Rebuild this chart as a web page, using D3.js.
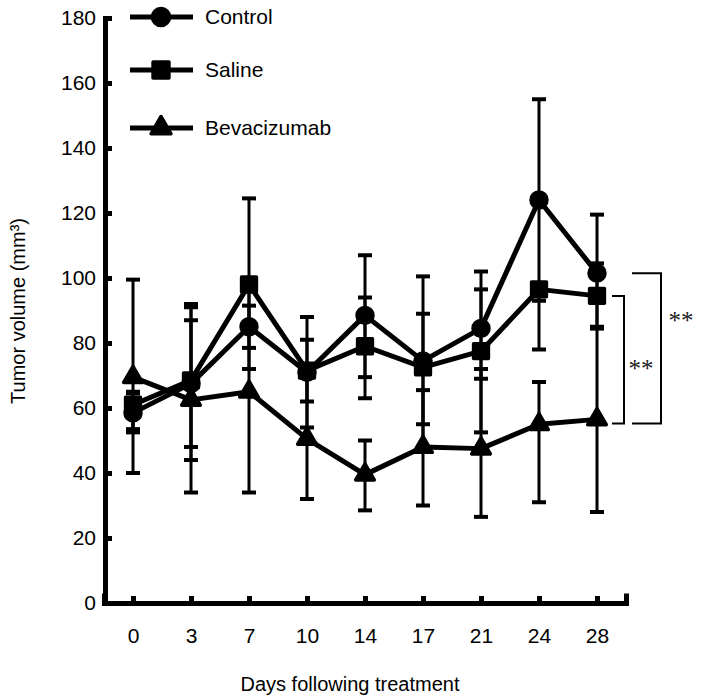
<!DOCTYPE html>
<html>
<head>
<meta charset="utf-8">
<script src="https://cdnjs.cloudflare.com/ajax/libs/d3/7.8.5/d3.min.js"></script>
<style>
body { margin: 0; background: #fff; }
</style>
</head>
<body>
<div id="chart-area"></div>
<script>
// chart values
const days = ["0", "3", "7", "10", "14", "17", "21", "24", "28"]
const yTicks = [0, 20, 40, 60, 80, 100, 120, 140, 160, 180]

const controlMean = [58.5, 67.5, 85, 71, 88.5, 74.5, 84.5, 124, 101.5]
const controlLow = [52.5, 48, 78.5, 54, 69.5, 48, 69, 93, 84.5]
const controlHigh = [65, 87, 91.5, 88, 107, 100.5, 102, 155, 119.5]

const salineMean = [61, 68.5, 98, 71.5, 79, 72.5, 77.5, 96.5, 94.5]
const salineLow = [53.5, 44, 72, 62, 63, 55, 52.5, 78, 84.5]
const salineHigh = [64.5, 92, 124.5, 81, 94, 89, 96.5, 96.5, 104.5]

const bevMean = [69.5, 62.5, 65, 50.5, 39.5, 48, 47.5, 55, 56.5]
const bevLow = [40, 34, 34, 32, 28.5, 30, 26.5, 31, 28]
const bevHigh = [99.5, 91, 96, 70, 50, 65.5, 72, 68, 85]

const seriesNames = ["Control", "Saline", "Bevacizumab"]

const FONT = "Arial, 'Liberation Sans', sans-serif"
const WIDTH = 702
const HEIGHT = 698

const svg = d3.select("#chart-area").append("svg")
	.attr("width", WIDTH)
	.attr("height", HEIGHT)

// scales
const x = d3.scalePoint().domain(days).range([104, 626]).padding(0.5)
const y = d3.scaleLinear().domain([0, 180]).range([603, 18])

const series = [
	{ name: seriesNames[0], mean: controlMean, low: controlLow, high: controlHigh, symbol: d3.symbolCircle, size: 200 },
	{ name: seriesNames[1], mean: salineMean, low: salineLow, high: salineHigh, symbol: d3.symbolSquare, size: 220 },
	{ name: seriesNames[2], mean: bevMean, low: bevLow, high: bevHigh, symbol: d3.symbolTriangle, size: 150 }
]

// error bars
series.forEach(s => {
	const g = svg.append("g").attr("class", "errors")
	days.forEach((d, i) => {
		g.append("line")
			.attr("x1", x(d)).attr("x2", x(d))
			.attr("y1", y(s.low[i])).attr("y2", y(s.high[i]))
			.attr("stroke", "#000").attr("stroke-width", 3)
		;[s.low[i], s.high[i]].forEach(v => {
			g.append("line")
				.attr("x1", x(d) - 7).attr("x2", x(d) + 7)
				.attr("y1", y(v)).attr("y2", y(v))
				.attr("stroke", "#000").attr("stroke-width", 4)
		})
	})
})

// lines
const line = d3.line()
	.x((d, i) => x(days[i]))
	.y(d => y(d))

series.forEach(s => {
	svg.append("path")
		.attr("d", line(s.mean))
		.attr("fill", "none")
		.attr("stroke", "#000")
		.attr("stroke-width", 5)
		.attr("stroke-linejoin", "round")
})

// markers
series.forEach(s => {
	svg.append("g").selectAll("path")
		.data(s.mean)
		.enter().append("path")
		.attr("transform", (d, i) => `translate(${x(days[i])}, ${y(d)})`)
		.attr("d", d3.symbol().type(s.symbol).size(s.size))
		.attr("fill", "#000")
		.attr("stroke", "#000")
		.attr("stroke-width", 3.5)
		.attr("stroke-linejoin", "round")
})

// axes
const yAxis = svg.append("g")
	.attr("transform", "translate(105, 0)")
	.call(d3.axisLeft(y).tickValues(yTicks).tickSize(-7).tickSizeOuter(0).tickPadding(9))
yAxis.select(".domain").attr("stroke-width", 5).attr("stroke-linecap", "square")
yAxis.selectAll(".tick line").attr("stroke-width", 5)
yAxis.selectAll("text")
	.attr("font-family", FONT).attr("font-size", 21).attr("fill", "#000")

const xAxis = svg.append("g")
	.attr("transform", "translate(0, 603)")
	.call(d3.axisBottom(x).tickSize(-7).tickSizeOuter(-7).tickPadding(25))
xAxis.select(".domain").attr("stroke-width", 5).attr("stroke-linecap", "square")
xAxis.selectAll(".tick line").attr("stroke-width", 5)
xAxis.selectAll("text")
	.attr("font-family", FONT).attr("font-size", 21).attr("fill", "#000")

// axis titles
svg.append("text")
	.attr("x", 350).attr("y", 691)
	.attr("text-anchor", "middle")
	.attr("font-family", FONT).attr("font-size", 20)
	.text("Days following treatment")

svg.append("text")
	.attr("transform", "translate(25, 311) rotate(-90)")
	.attr("text-anchor", "middle")
	.attr("font-family", FONT).attr("font-size", 20)
	.text("Tumor volume (mm³)")

// legend
const legendY = [17, 70, 128]
series.forEach((s, i) => {
	const lg = svg.append("g").attr("transform", `translate(0, ${legendY[i]})`)
	lg.append("line")
		.attr("x1", 130).attr("x2", 193)
		.attr("stroke", "#000").attr("stroke-width", 5)
	lg.append("path")
		.attr("transform", "translate(161, 0)")
		.attr("d", d3.symbol().type(s.symbol).size(s.size * 1.15))
		.attr("fill", "#000").attr("stroke", "#000")
		.attr("stroke-width", 3.5).attr("stroke-linejoin", "round")
	lg.append("text")
		.attr("x", 205).attr("dy", "0.35em")
		.attr("font-family", FONT).attr("font-size", 21)
		.text(s.name)
})

// significance brackets
const last = days.length - 1
const bracket = (xl, xr, yTop, yBot) =>
	`M${xl},${yTop}H${xr}V${yBot}H${xl}`

svg.append("path")
	.attr("d", bracket(612, 624, y(salineMean[last]), y(bevMean[last]) + 4))
	.attr("fill", "none").attr("stroke", "#000").attr("stroke-width", 2)
svg.append("path")
	.attr("d", bracket(632, 661, y(controlMean[last]), y(bevMean[last]) + 4))
	.attr("fill", "none").attr("stroke", "#000").attr("stroke-width", 2)

svg.append("text")
	.attr("x", 641).attr("y", 377)
	.attr("text-anchor", "middle")
	.attr("font-family", "'Liberation Serif', 'Times New Roman', serif")
	.attr("font-size", 25).attr("fill", "#222")
	.text("**")
svg.append("text")
	.attr("x", 681).attr("y", 329)
	.attr("text-anchor", "middle")
	.attr("font-family", "'Liberation Serif', 'Times New Roman', serif")
	.attr("font-size", 25).attr("fill", "#222")
	.text("**")
</script>
</body>
</html>
